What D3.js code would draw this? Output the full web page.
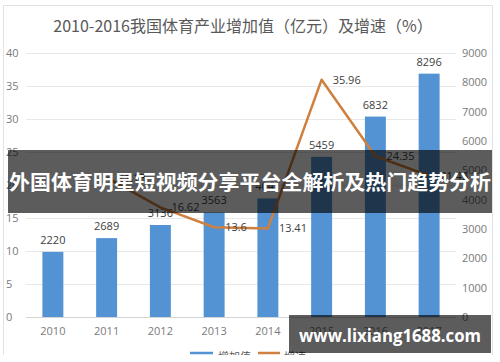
<!DOCTYPE html>
<html>
<head>
<meta charset="utf-8">
<style>
  body { margin: 0; background: #fff; }
  svg text { font-family: "Open Sans", "Noto Sans CJK SC", sans-serif; }
</style>
</head>
<body>
<svg></svg>
<script src="https://d3js.org/d3.v7.min.js"></script>
<script>

// data
var years = ["2010", "2011", "2012", "2013", "2014", "2015", "2016", "2017"];
var addedValue = [2220, 2689, 3136, 3563, 4041, 5459, 6832, 8296];   // 亿元
var growthYears = ["2011", "2012", "2013", "2014", "2015", "2016", "2017"];
var growthRate = [21.13, 16.62, 13.6, 13.41, 35.96, 24.35, 21.43];    // %
var leftTicks = [0, 5, 10, 15, 20, 25, 30, 35, 40];
var rightTicks = [0, 1000, 2000, 3000, 4000, 5000, 6000, 7000, 8000, 9000];
var legendNames = ["增加值", "增速"];

var width = 500,
    height = 362;

var svg = d3.select("svg")
    .attr("width", width)
    .attr("height", height);

svg.append("defs").append("clipPath").attr("id", "frame")
  .append("rect").attr("x", 0).attr("y", 0).attr("width", width).attr("height", 355);

var chart = svg.append("g").attr("clip-path", "url(#frame)");

// frame
chart.append("rect")
    .attr("x", 3.5).attr("y", 5.5)
    .attr("width", 489).attr("height", 360)
    .attr("fill", "#fff")
    .attr("stroke", "#e2e2e2");

chart.append("text")
    .attr("x", 243).attr("y", 32)
    .attr("text-anchor", "middle")
    .attr("font-size", 16)
    .attr("fill", "#595959")
    .style("font-family", "'Noto Sans CJK SC', sans-serif")
    .text("2010-2016我国体育产业增加值（亿元）及增速（%）");

var x = d3.scaleBand()
    .domain(years)
    .range([26, 456])
    .paddingInner(0.61)
    .paddingOuter(0.305);

var yLeft = d3.scaleLinear().domain([0, 40]).range([317, 53]);
var yRight = d3.scaleLinear().domain([0, 9000]).range([317, 53]);

// grid
chart.append("g").selectAll("line")
    .data(leftTicks)
    .enter().append("line")
    .attr("x1", 26).attr("x2", 456)
    .attr("y1", function(d) { return Math.round(yLeft(d)) + 0.5; })
    .attr("y2", function(d) { return Math.round(yLeft(d)) + 0.5; })
    .attr("stroke", function(d) { return d == 0 ? "#d4d4d4" : "#e8e8e8"; });

// left axis labels
chart.append("g").selectAll("text")
    .data(leftTicks)
    .enter().append("text")
    .attr("x", 6)
    .attr("y", function(d) { return yLeft(d) + 4; })
    .attr("font-size", 11)
    .attr("fill", "#7a7a7a")
    .text(function(d) { return d; });

// right axis labels
chart.append("g").selectAll("text")
    .data(rightTicks)
    .enter().append("text")
    .attr("x", 462)
    .attr("y", function(d) { return yRight(d) + 4; })
    .attr("font-size", 11)
    .attr("fill", "#7a7a7a")
    .text(function(d) { return d; });

// x labels
chart.append("g").selectAll("text")
    .data(years)
    .enter().append("text")
    .attr("x", function(d) { return x(d) + x.bandwidth() / 2; })
    .attr("y", 335)
    .attr("text-anchor", "middle")
    .attr("font-size", 11)
    .attr("fill", "#7a7a7a")
    .text(function(d) { return d; });

// bars
chart.append("g").selectAll("rect")
    .data(addedValue)
    .enter().append("rect")
    .attr("x", function(d, i) { return x(years[i]); })
    .attr("width", x.bandwidth())
    .attr("y", function(d) { return yRight(d); })
    .attr("height", function(d) { return 317 - yRight(d); })
    .attr("fill", "#5393d3");

chart.append("g").selectAll("text")
    .data(addedValue)
    .enter().append("text")
    .attr("x", function(d, i) { return x(years[i]) + x.bandwidth() / 2; })
    .attr("y", function(d) { return yRight(d) - 8; })
    .attr("text-anchor", "middle")
    .attr("font-size", 11)
    .attr("fill", "#404040")
    .text(function(d) { return d; });

// growth line
var line = d3.line()
    .x(function(d, i) { return x(growthYears[i]) + x.bandwidth() / 2; })
    .y(function(d) { return yLeft(d); });

chart.append("path")
    .datum(growthRate)
    .attr("d", line)
    .attr("fill", "none")
    .attr("stroke", "#cf7f3e")
    .attr("stroke-width", 2.5)
    .attr("stroke-linejoin", "round");

chart.append("g").selectAll("text")
    .data(growthRate)
    .enter().append("text")
    .attr("x", function(d, i) { return x(growthYears[i]) + x.bandwidth() / 2 + 11; })
    .attr("y", function(d) { return yLeft(d) + 4; })
    .attr("font-size", 11)
    .attr("fill", "#404040")
    .text(function(d) { return d; });

// legend (cut by the frame bottom)
chart.append("line")
    .attr("x1", 190).attr("x2", 213).attr("y1", 353).attr("y2", 353)
    .attr("stroke", "#5393d3").attr("stroke-width", 2.5);
chart.append("line")
    .attr("x1", 258).attr("x2", 280).attr("y1", 353).attr("y2", 353)
    .attr("stroke", "#cf7f3e").attr("stroke-width", 2.5);
chart.append("g").selectAll("text")
    .data(legendNames)
    .enter().append("text")
    .attr("x", function(d, i) { return i == 0 ? 218 : 284; })
    .attr("y", 361)
    .attr("font-size", 11)
    .attr("fill", "#595959")
    .style("font-family", "'Noto Sans CJK SC', sans-serif")
    .text(function(d) { return d; });

// overlay banner
svg.append("rect")
    .attr("x", 8).attr("y", 150)
    .attr("width", 484).attr("height", 63)
    .attr("fill", "rgba(0,0,0,0.64)");

svg.append("text")
    .attr("x", 250).attr("y", 190)
    .attr("text-anchor", "middle")
    .attr("font-size", 20)
    .attr("font-weight", "bold")
    .attr("fill", "#fff")
    .attr("textLength", 482)
    .attr("lengthAdjust", "spacingAndGlyphs")
    .style("font-family", "'Noto Sans CJK SC', sans-serif")
    .text("外国体育明星短视频分享平台全解析及热门趋势分析");

// watermark box
svg.append("rect")
    .attr("x", 289).attr("y", 315)
    .attr("width", 202).attr("height", 38)
    .attr("fill", "rgba(0,0,0,0.64)");

svg.append("text")
    .attr("x", 390).attr("y", 342)
    .attr("text-anchor", "middle")
    .attr("font-size", 18)
    .attr("font-weight", "bold")
    .attr("fill", "#fff")
    .attr("textLength", 182)
    .attr("lengthAdjust", "spacingAndGlyphs")
    .text("www.lixiang1688.com");

</script>
</body>
</html>
